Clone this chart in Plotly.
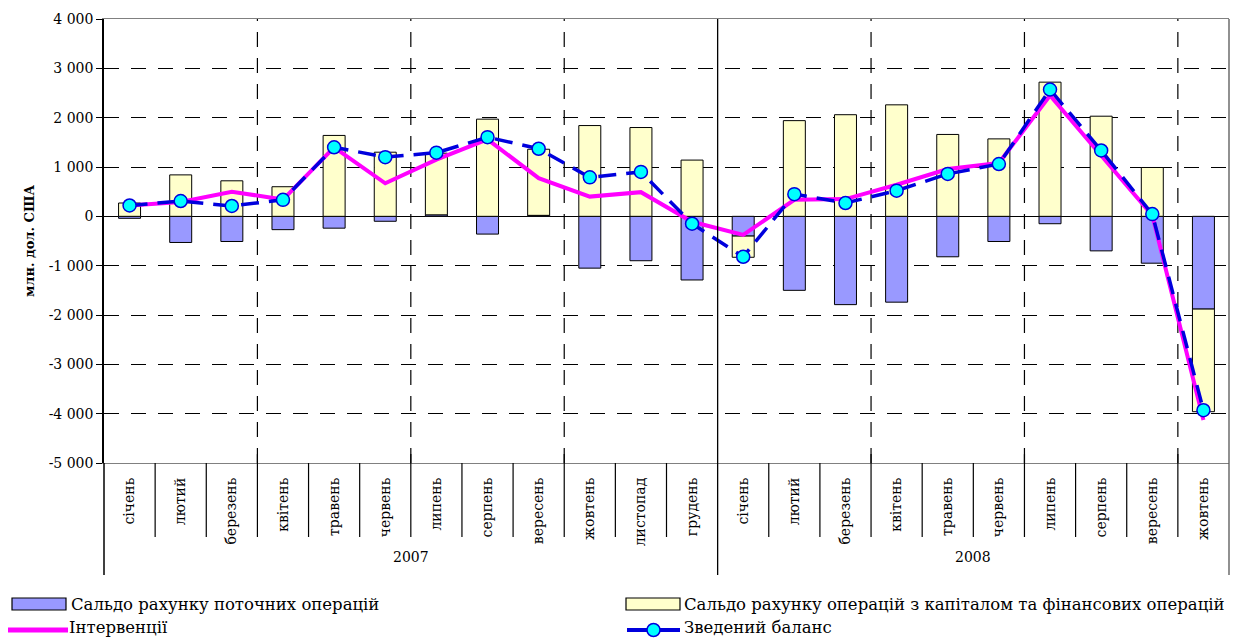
import plotly.graph_objects as go

# Monthly balance-of-payments components, mln USD
months = ["січень", "лютий", "березень", "квітень", "травень", "червень",
          "липень", "серпень", "вересень", "жовтень", "листопад", "грудень",
          "січень", "лютий", "березень", "квітень", "травень", "червень",
          "липень", "серпень", "вересень", "жовтень"]
years = ["2007", "2008"]
year_len = [12, 10]

current_account = [-40, -530, -510, -270, -240, -100, 30, -360, 20, -1050, -900, -1290,
                   -400, -1500, -1790, -1740, -820, -510, -150, -700, -950, -1880]
capital_account = [270, 840, 720, 600, 1640, 1300, 1250, 1970, 1340, 1840, 1800, 1140,
                   -430, 1940, 2060, 2260, 1660, 1570, 2720, 2030, 990, -2080]
interventions = [220, 290, 500, 340, 1400, 670, 1150, 1560, 775, 400, 490, -110,
                 -375, 335, 350, 640, 960, 1080, 2450, 1250, 20, -4130]
overall_balance = [220, 310, 210, 335, 1400, 1200, 1290, 1605, 1370, 790, 900, -150,
                   -820, 450, 270, 520, 860, 1060, 2570, 1335, 45, -3930]

y_ticks = [-5000, -4000, -3000, -2000, -1000, 0, 1000, 2000, 3000, 4000]
y_ticktext = ["-5 000", "-4 000", "-3 000", "-2 000", "-1 000", "0",
              "1 000", "2 000", "3 000", "4 000"]

legend_names = ["Сальдо рахунку поточних операцій",
                "Сальдо рахунку операцій з капіталом та фінансових операцій",
                "Інтервенції", "Зведений баланс"]

SERIF = "DejaVu Serif, serif"
W, H = 1237, 640
ML, MR, MT, MB = 104, 8, 19, 177
PW, PH = W - ML - MR, H - MT - MB

BLUE_FILL = "#9999FF"
YELLOW_FILL = "#FFFFCC"
MAGENTA = "#FF00FF"
LINE_BLUE = "#0000DD"
CYAN = "#00FFFF"

x = list(range(len(months)))

fig = go.Figure()
fig.add_trace(go.Bar(x=x, y=current_account, name=legend_names[0],
                     marker=dict(color=BLUE_FILL, line=dict(color="#000000", width=1)),
                     showlegend=False))
fig.add_trace(go.Bar(x=x, y=capital_account, name=legend_names[1],
                     marker=dict(color=YELLOW_FILL, line=dict(color="#000000", width=1)),
                     showlegend=False))
fig.add_trace(go.Scatter(x=x, y=interventions, name=legend_names[2], mode="lines",
                         line=dict(color=MAGENTA, width=4), showlegend=False))
fig.add_trace(go.Scatter(x=x, y=overall_balance, name=legend_names[3], mode="lines+markers",
                         line=dict(color=LINE_BLUE, width=3.5, dash="18px,10px"),
                         marker=dict(symbol="circle", size=13, color=CYAN,
                                     line=dict(color=LINE_BLUE, width=1.5)),
                         showlegend=False))


def px_x(p):
    return (p - ML) / PW


def px_y(p):
    return (H - MB - p) / PH


shapes = []
n = len(months)
year_starts = [0]
for L in year_len[:-1]:
    year_starts.append(year_starts[-1] + L)
year_bounds = {s - 0.5 for s in year_starts[1:]}

# separators between month labels; quarter borders also carry a dashed gridline
for i in range(n - 1):
    b = i + 0.5
    if b in year_bounds:
        continue
    quarter = (i + 1) % 3 == 0
    shapes.append(dict(type="line", xref="x", yref="paper", x0=b, x1=b,
                       y0=0.02 if quarter else 0, y1=px_y(537),
                       line=dict(color="#000000", width=1.2)))
    if quarter:
        shapes.append(dict(type="line", xref="x", yref="paper", x0=b, x1=b,
                           y0=0, y1=1, layer="below",
                           line=dict(color="#000000", width=1.2, dash="15px,11px")))

# year borders run through the plot and both label rows
for b in sorted(year_bounds):
    shapes.append(dict(type="line", xref="x", yref="paper", x0=b, x1=b,
                       y0=1, y1=px_y(575), line=dict(color="#000000", width=1.3)))
shapes.append(dict(type="line", xref="paper", yref="paper", x0=0, x1=0,
                   y0=0, y1=px_y(575), line=dict(color="#000000", width=1.5)))
shapes.append(dict(type="line", xref="paper", yref="paper", x0=1, x1=1,
                   y0=1, y1=px_y(575), line=dict(color="#555555", width=1.3)))

annotations = []
for yr, s, L in zip(years, year_starts, year_len):
    annotations.append(dict(text=yr, xref="x", yref="paper", x=s + (L - 1) / 2,
                            y=px_y(557), showarrow=False,
                            xanchor="center", yanchor="middle",
                            font=dict(family=SERIF, size=14, color="#000000")))

annotations.append(dict(text="<b>млн. дол. США</b>", xref="paper", yref="paper",
                        x=px_x(29), y=0.5, textangle=-90, showarrow=False,
                        xanchor="center", yanchor="middle",
                        font=dict(family=SERIF, size=13, color="#000000")))

# legend drawn below the category axis
row1, row2 = 604, 628
shapes.append(dict(type="rect", xref="paper", yref="paper",
                   x0=px_x(12), x1=px_x(66), y0=px_y(row1 + 6), y1=px_y(row1 - 6),
                   fillcolor=BLUE_FILL, line=dict(color="#000000", width=1.2)))
shapes.append(dict(type="rect", xref="paper", yref="paper",
                   x0=px_x(626), x1=px_x(680), y0=px_y(row1 + 6), y1=px_y(row1 - 6),
                   fillcolor=YELLOW_FILL, line=dict(color="#000000", width=1.2)))
shapes.append(dict(type="line", xref="paper", yref="paper",
                   x0=px_x(8), x1=px_x(68), y0=px_y(row2 + 2), y1=px_y(row2 + 2),
                   line=dict(color=MAGENTA, width=5)))
shapes.append(dict(type="line", xref="paper", yref="paper",
                   x0=px_x(627), x1=px_x(680), y0=px_y(row2 + 2), y1=px_y(row2 + 2),
                   line=dict(color=LINE_BLUE, width=4)))
shapes.append(dict(type="circle", xref="paper", yref="paper",
                   x0=px_x(647), x1=px_x(660), y0=px_y(row2 + 8.5), y1=px_y(row2 - 4.5),
                   fillcolor=CYAN, line=dict(color=LINE_BLUE, width=1.5)))

legend_pos = [(70, row1), (683, row1), (68, row2), (683, row2)]
for name, (lx, ly) in zip(legend_names, legend_pos):
    annotations.append(dict(text=name, xref="paper", yref="paper",
                            x=px_x(lx), y=px_y(ly), xanchor="left", yanchor="middle",
                            showarrow=False, borderpad=0,
                            font=dict(family=SERIF, size=16.5, color="#000000")))

fig.update_layout(
    width=W, height=H, autosize=False,
    margin=dict(l=ML, r=MR, t=MT, b=MB, pad=0),
    paper_bgcolor="#FFFFFF", plot_bgcolor="#FFFFFF",
    barmode="relative", bargap=0.57,
    showlegend=False,
    shapes=shapes, annotations=annotations,
    xaxis=dict(range=[-0.5, n - 0.5], tickmode="array", tickvals=x, ticktext=months,
               tickangle=-90, ticks="", showgrid=False, zeroline=False,
               showline=True, linecolor="#808080", linewidth=1.3, mirror=True,
               ticklabelstandoff=8,
               tickfont=dict(family=SERIF, size=14, color="#000000")),
    yaxis=dict(range=[-5000, 4000], tickmode="array", tickvals=y_ticks, ticktext=y_ticktext,
               ticks="outside", ticklen=6, tickcolor="#000000", tickwidth=1.2,
               showline=True, linecolor="#000000", linewidth=1.5,
               showgrid=True, gridcolor="#000000", gridwidth=1.2, griddash="15px,12px",
               zeroline=True, zerolinecolor="#000000", zerolinewidth=1.3,
               tickfont=dict(family=SERIF, size=14, color="#000000")),
)

fig.write_html("out.html")
